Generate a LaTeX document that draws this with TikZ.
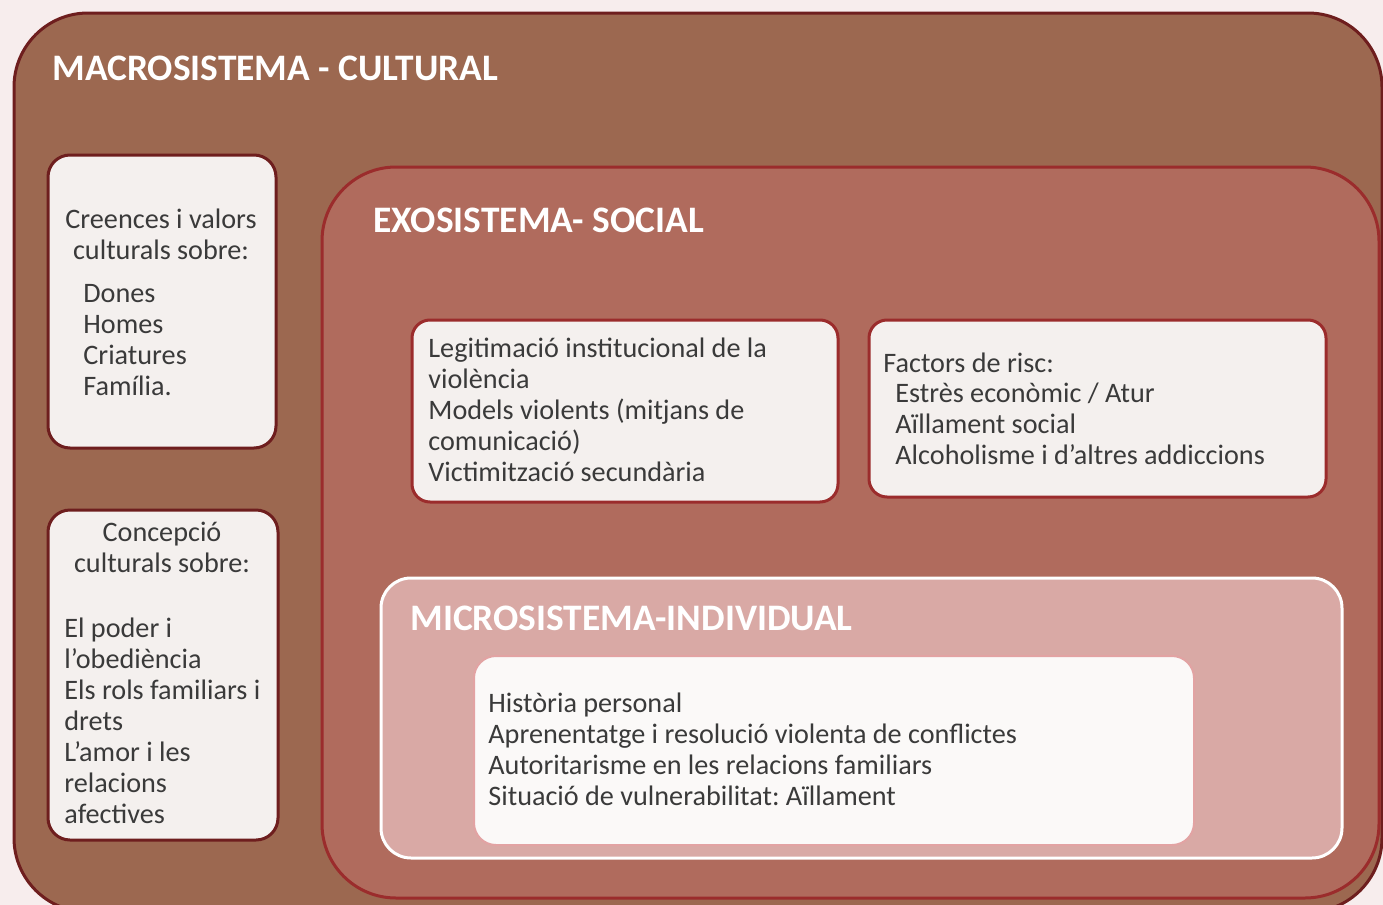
\documentclass[tikz,border=0pt]{standalone}
\usepackage{fontspec}
\setmainfont{Carlito}
\frenchspacing
\definecolor{bgpink}{HTML}{F7EDED}
\definecolor{macrofill}{HTML}{9C6850}
\definecolor{macroline}{HTML}{6E1E1E}
\definecolor{exofill}{HTML}{B06B5D}
\definecolor{exoline}{HTML}{9B2C2C}
\definecolor{microfill}{HTML}{D9A9A5}
\definecolor{cardfill}{HTML}{F4F0EE}
\definecolor{innerline}{HTML}{E2A3A3}
\definecolor{txtgray}{HTML}{3A3A3A}
\begin{document}
\begin{tikzpicture}[x=0.5pt,y=-0.5pt,
    outer/.style={line width=1.5pt,rounded corners=37pt},
    card/.style={fill=cardfill,line width=1.5pt,rounded corners=11pt},
    title/.style={anchor=base west,inner sep=0pt,text=white,
      font=\fontsize{18.7}{22}\selectfont\bfseries},
    txt/.style={anchor=base west,inner sep=0pt,align=left,text=txtgray,
      font=\fontsize{14.1}{15.5}\selectfont},
    ctxt/.style={txt,anchor=base,align=center}]
  \useasboundingbox (0,0) rectangle (1383,905);
  \fill[bgpink] (0,0) rectangle (1383,905);
  % nested levels
  \draw[outer,draw=macroline,fill=macrofill] (14,13) rectangle (1382,912);
  \draw[outer,draw=exoline,fill=exofill] (322,167) rectangle (1379,898);
  \draw[line width=1.5pt,rounded corners=15pt,draw=white,fill=microfill]
    (381,578) rectangle (1342,858);
  % cards
  \draw[card,draw=macroline] (48,155) rectangle (276,448);
  \draw[card,draw=macroline] (48,510) rectangle (278,840);
  \draw[card,draw=exoline,rounded corners=9pt] (412,320) rectangle (838,502);
  \draw[card,draw=exoline,rounded corners=9pt] (869,320) rectangle (1326,497);
  \draw[card,draw=innerline,line width=1pt,fill=white!60!cardfill] (474,656) rectangle (1194,845);
  % titles
  \node[title] (macro) at (52,80) {MACROSISTEMA - CULTURAL};
  \node[title] (exo) at (373,232) {EXOSISTEMA- SOCIAL};
  \node[title] (micro) at (410,630) {MICROSISTEMA-INDIVIDUAL};
  % texts (placed at the baseline of their last line)
  \node[ctxt] (creences) at (161,259) {Creences i valors\\culturals sobre:};
  \node[txt] (dones) at (83,395) {Dones\\Homes\\Criatures\\Família.};
  \node[ctxt] (concepcio) at (162,572) {Concepció\\culturals sobre:};
  \node[txt] (poder) at (64,823) {El poder i\\l’obediència\\Els rols familiars i\\drets\\L’amor i les\\relacions\\afectives};
  \node[txt] (legit) at (428,481) {Legitimació institucional de la\\violència\\Models violents (mitjans de\\comunicació)\\Victimització secundària};
  \node[txt] (factors) at (883,372) {Factors de risc:};
  \node[txt] (risc) at (895,464) {Estrès econòmic / Atur\\Aïllament social\\Alcoholisme i d’altres addiccions};
  \node[txt] (historia) at (488,805) {Història personal\\Aprenentatge i resolució violenta de conflictes\\Autoritarisme en les relacions familiars\\Situació de vulnerabilitat: Aïllament};
\end{tikzpicture}
\end{document}
